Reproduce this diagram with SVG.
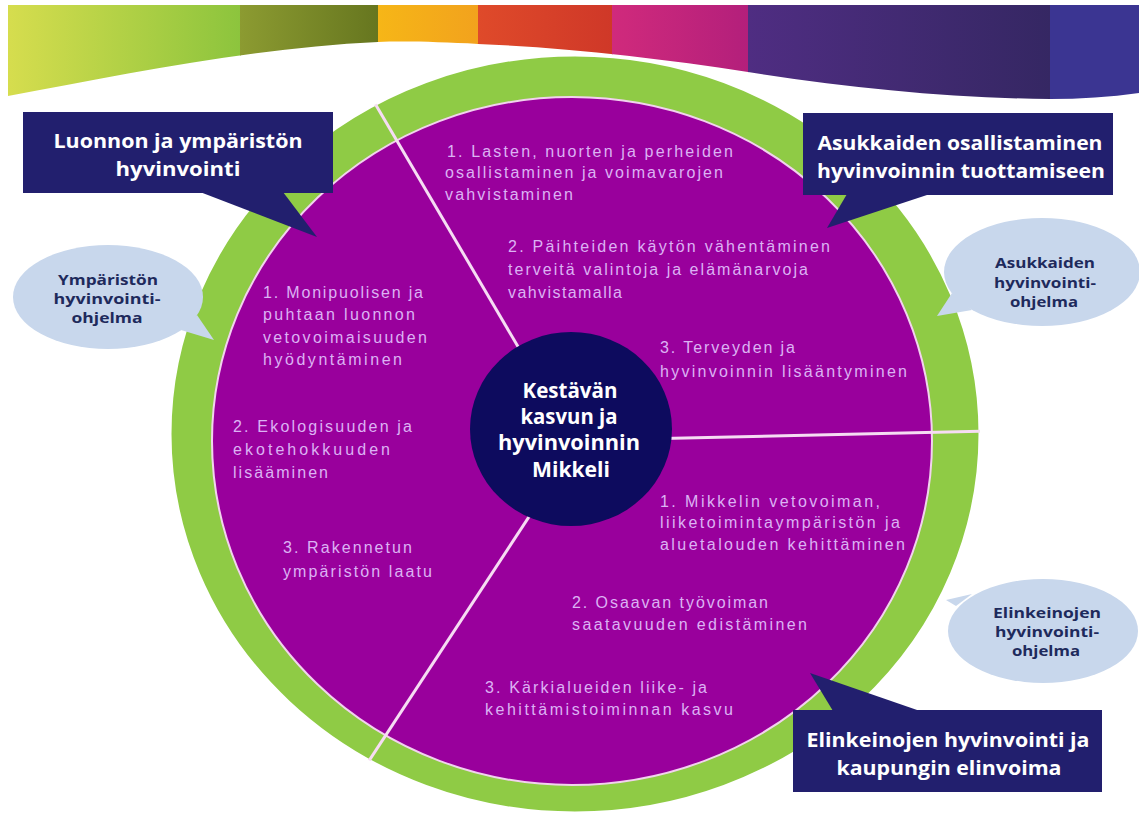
<svg xmlns="http://www.w3.org/2000/svg" width="1139" height="823" viewBox="0 0 1139 823">
<style>
.sec{font-family:"Liberation Sans","DejaVu Sans",sans-serif;font-size:16px;fill:#dcb2f4;}
.box{fill:#221f6e;}
.boxt{font-family:"Open Sans","Liberation Sans",sans-serif;font-size:20px;font-weight:bold;fill:#ffffff;text-anchor:middle;}
.bub{fill:#c8d7ec;}
.bubt{font-family:"Open Sans","Liberation Sans",sans-serif;font-size:14px;font-weight:bold;fill:#1e2a5c;text-anchor:middle;}
.ctr{font-family:"Open Sans","Liberation Sans",sans-serif;font-size:21px;font-weight:bold;fill:#ffffff;text-anchor:middle;}
.div{stroke:#f6dcf3;stroke-width:3;}
</style>
<defs>
<clipPath id="bannerClip">
<path d="M8,5 H1139 V93 C1110,97 1080,99 1050,99 C950,98 850,88 748,72 C660,58 560,47 478,44 C440,42 405,41 378,42 C250,48 120,75 8,96 Z"/>
</clipPath>
<clipPath id="ringClip"><ellipse cx="575" cy="434" rx="405" ry="379"/></clipPath>
<linearGradient id="g1" x1="0" x2="1"><stop offset="0" stop-color="#d6dd4e"/><stop offset="1" stop-color="#8cc43d"/></linearGradient>
<linearGradient id="g2" x1="0" x2="1"><stop offset="0" stop-color="#8c9b31"/><stop offset="1" stop-color="#66761f"/></linearGradient>
<linearGradient id="g3" x1="0" x2="1"><stop offset="0" stop-color="#f6b617"/><stop offset="1" stop-color="#f2a21d"/></linearGradient>
<linearGradient id="g4" x1="0" x2="1"><stop offset="0" stop-color="#df4a2a"/><stop offset="1" stop-color="#cf3828"/></linearGradient>
<linearGradient id="g5" x1="0" x2="1"><stop offset="0" stop-color="#d02a7c"/><stop offset="1" stop-color="#b31f7b"/></linearGradient>
<linearGradient id="g6" x1="0" x2="1"><stop offset="0" stop-color="#4f2d82"/><stop offset="1" stop-color="#352763"/></linearGradient>
</defs>
<rect width="1139" height="823" fill="#ffffff"/>
<g id="banner" clip-path="url(#bannerClip)">
<rect x="8" y="5" width="233" height="100" fill="url(#g1)"/>
<rect x="240" y="5" width="139" height="100" fill="url(#g2)"/>
<rect x="378" y="5" width="101" height="100" fill="url(#g3)"/>
<rect x="478" y="5" width="135" height="100" fill="url(#g4)"/>
<rect x="612" y="5" width="137" height="100" fill="url(#g5)"/>
<rect x="748" y="5" width="303" height="100" fill="url(#g6)"/>
<rect x="1050" y="5" width="89" height="100" fill="#3b3592"/>
</g>
<g id="ring">
<ellipse cx="575" cy="434" rx="405" ry="379" fill="#8fcb45" stroke="#ffffff" stroke-width="3"/>
<ellipse cx="572" cy="441" rx="360" ry="344" fill="#99009c" stroke="#f2d2ee" stroke-width="2"/>
</g>
<g id="connectors" clip-path="url(#ringClip)">
<line class="div" x1="530" y1="367" x2="360" y2="78"/>
<line class="div" x1="540" y1="500" x2="340" y2="805"/>
<line class="div" x1="640" y1="439" x2="990" y2="431"/>
</g>
<g id="center">
<ellipse cx="571" cy="429" rx="101" ry="97" fill="#0d0b5e"/>
<text class="ctr" x="570" y="398" textLength="95" lengthAdjust="spacingAndGlyphs">Kestävän</text>
<text class="ctr" x="569" y="424" textLength="97" lengthAdjust="spacingAndGlyphs">kasvun ja</text>
<text class="ctr" x="569" y="450" textLength="142" lengthAdjust="spacingAndGlyphs">hyvinvoinnin</text>
<text class="ctr" x="571" y="477" textLength="78" lengthAdjust="spacingAndGlyphs">Mikkeli</text>
</g>
<g id="section-asukkaat">
<text class="sec" x="447" y="157" textLength="286">1. Lasten, nuorten ja perheiden</text>
<text class="sec" x="445" y="178" textLength="278">osallistaminen ja voimavarojen</text>
<text class="sec" x="445" y="200" textLength="128">vahvistaminen</text>
<text class="sec" x="508" y="252" textLength="322">2. Päihteiden käytön vähentäminen</text>
<text class="sec" x="508" y="275" textLength="300">terveitä valintoja ja elämänarvoja</text>
<text class="sec" x="508" y="298" textLength="114">vahvistamalla</text>
<text class="sec" x="660" y="353" textLength="135">3. Terveyden ja</text>
<text class="sec" x="660" y="377" textLength="247">hyvinvoinnin lisääntyminen</text>
</g>
<g id="section-luonto">
<text class="sec" x="263" y="298" textLength="160">1. Monipuolisen ja</text>
<text class="sec" x="263" y="320" textLength="152">puhtaan luonnon</text>
<text class="sec" x="263" y="343" textLength="164">vetovoimaisuuden</text>
<text class="sec" x="263" y="365" textLength="139">hyödyntäminen</text>
<text class="sec" x="233" y="432" textLength="179">2. Ekologisuuden ja</text>
<text class="sec" x="233" y="455" textLength="157">ekotehokkuuden</text>
<text class="sec" x="233" y="478" textLength="95">lisääminen</text>
<text class="sec" x="283" y="553" textLength="129">3. Rakennetun</text>
<text class="sec" x="283" y="577" textLength="149">ympäristön laatu</text>
</g>
<g id="section-elinkeinot">
<text class="sec" x="660" y="507" textLength="220">1. Mikkelin vetovoiman,</text>
<text class="sec" x="660" y="528" textLength="240">liiketoimintaympäristön ja</text>
<text class="sec" x="660" y="550" textLength="245">aluetalouden kehittäminen</text>
<text class="sec" x="572" y="608" textLength="196">2. Osaavan työvoiman</text>
<text class="sec" x="572" y="630" textLength="235">saatavuuden edistäminen</text>
<text class="sec" x="485" y="693" textLength="222">3. Kärkialueiden liike- ja</text>
<text class="sec" x="485" y="715" textLength="248">kehittämistoiminnan kasvu</text>
</g>
<g id="box-luonto">
<rect class="box" x="23" y="112" width="310" height="81"/>
<polygon class="box" points="200,192 283,192 317,237"/>
<text class="boxt" x="178" y="148" textLength="249" lengthAdjust="spacingAndGlyphs">Luonnon ja ympäristön</text>
<text class="boxt" x="178" y="176" textLength="125" lengthAdjust="spacingAndGlyphs">hyvinvointi</text>
</g>
<g id="box-asukkaat">
<rect class="box" x="803" y="113" width="310" height="82"/>
<polygon class="box" points="847,194 930,194 827,228"/>
<text class="boxt" x="960" y="150" textLength="285" lengthAdjust="spacingAndGlyphs">Asukkaiden osallistaminen</text>
<text class="boxt" x="961" y="178" textLength="288" lengthAdjust="spacingAndGlyphs">hyvinvoinnin tuottamiseen</text>
</g>
<g id="box-elinkeinot">
<rect class="box" x="793" y="710" width="309" height="82"/>
<polygon class="box" points="833,711 920,711 810,673"/>
<text class="boxt" x="948" y="747" textLength="283" lengthAdjust="spacingAndGlyphs">Elinkeinojen hyvinvointi ja</text>
<text class="boxt" x="949" y="775" textLength="225" lengthAdjust="spacingAndGlyphs">kaupungin elinvoima</text>
</g>
<g id="bubble-ymparisto">
<ellipse class="bub" cx="108" cy="297" rx="95" ry="52"/>
<polygon class="bub" points="181,330 197,315 214,340"/>
<text class="bubt" x="108" y="285" textLength="100" lengthAdjust="spacingAndGlyphs">Ympäristön</text>
<text class="bubt" x="107" y="304" textLength="107" lengthAdjust="spacingAndGlyphs">hyvinvointi-</text>
<text class="bubt" x="107" y="323" textLength="71" lengthAdjust="spacingAndGlyphs">ohjelma</text>
</g>
<g id="bubble-asukkaat">
<ellipse class="bub" cx="1042" cy="272" rx="98" ry="54"/>
<polygon class="bub" points="952,293 972,310 937,316"/>
<text class="bubt" x="1045" y="268" textLength="100" lengthAdjust="spacingAndGlyphs">Asukkaiden</text>
<text class="bubt" x="1045" y="288" textLength="102" lengthAdjust="spacingAndGlyphs">hyvinvointi-</text>
<text class="bubt" x="1044" y="307" textLength="68" lengthAdjust="spacingAndGlyphs">ohjelma</text>
</g>
<g id="bubble-elinkeinot">
<ellipse class="bub" cx="1043" cy="631" rx="95" ry="52"/>
<polygon class="bub" points="956,606 972,594 946,600"/>
<text class="bubt" x="1047" y="618" textLength="108" lengthAdjust="spacingAndGlyphs">Elinkeinojen</text>
<text class="bubt" x="1047" y="637" textLength="104" lengthAdjust="spacingAndGlyphs">hyvinvointi-</text>
<text class="bubt" x="1046" y="656" textLength="68" lengthAdjust="spacingAndGlyphs">ohjelma</text>
</g>
</svg>
